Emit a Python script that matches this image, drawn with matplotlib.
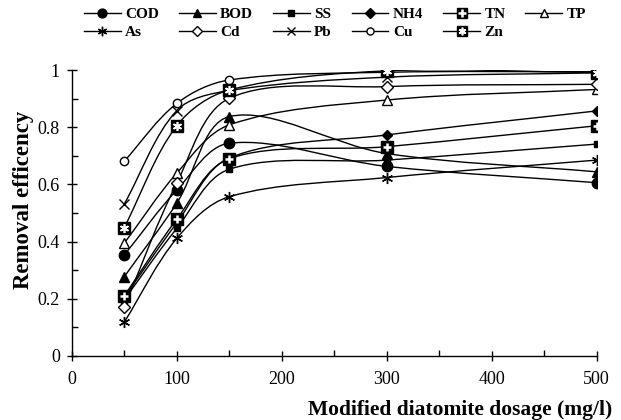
import numpy as np
import matplotlib
matplotlib.use('Agg')
import matplotlib.pyplot as plt
from matplotlib.path import Path
from matplotlib.patches import PathPatch
from matplotlib.lines import Line2D
from matplotlib.legend_handler import HandlerTuple
from matplotlib.ticker import MultipleLocator, FuncFormatter

plt.rcParams['font.family'] = ['Liberation Serif', 'DejaVu Serif']

# dosage of modified diatomite (mg/l)
dosage = [50, 100, 150, 300, 500]

# removal efficiency
cod = [0.353, 0.580, 0.744, 0.663, 0.606]
bod = [0.277, 0.534, 0.837, 0.708, 0.644]
ss = [0.197, 0.446, 0.653, 0.685, 0.741]
nh4 = [0.205, 0.465, 0.692, 0.773, 0.857]
tn = [0.210, 0.478, 0.690, 0.732, 0.805]
tp = [0.394, 0.639, 0.808, 0.895, 0.932]
as_ = [0.118, 0.411, 0.557, 0.624, 0.685]
cd = [0.172, 0.604, 0.901, 0.942, 0.950]
pb = [0.531, 0.858, 0.928, 0.975, 0.990]
cu = [0.681, 0.883, 0.965, 0.992, 0.994]
zn = [0.449, 0.805, 0.930, 0.997, 0.991]

names = ['COD', 'BOD', 'SS', 'NH4', 'TN', 'TP', 'As', 'Cd', 'Pb', 'Cu', 'Zn']
series = [cod, bod, ss, nh4, tn, tp, as_, cd, pb, cu, zn]

asterisk = (6, 2, 0)
styles = {
    'COD': dict(marker='o', ms=7.5, mfc='k'),
    'BOD': dict(marker='^', ms=7, mfc='k'),
    'SS': dict(marker='s', ms=5, mfc='k'),
    'NH4': dict(marker='D', ms=5.5, mfc='k'),
    'TN': dict(marker='s', ms=8, mfc='k'),
    'TP': dict(marker='^', ms=7, mfc='w'),
    'As': dict(marker=asterisk, ms=8, mfc='k'),
    'Cd': dict(marker='D', ms=6.5, mfc='w'),
    'Pb': dict(marker='x', ms=7, mfc='k'),
    'Cu': dict(marker='o', ms=6, mfc='w'),
    'Zn': dict(marker='s', ms=8, mfc='k'),
}
# white symbol drawn on top of the black square
overlays = {'TN': dict(marker='+', ms=6, mew=1.8),
            'Zn': dict(marker=asterisk, ms=6.5, mew=1.2)}


def smooth_path(xs, ys, sx, sy):
    # excel style smoothed line: bezier control points weighted by
    # the on-screen segment lengths (sx, sy = pixels per data unit)
    pts = np.column_stack([xs, ys]).astype(float)
    scr = pts * [sx, sy]
    n = len(pts)
    verts = [pts[0]]
    codes = [Path.MOVETO]
    for i in range(n - 1):
        i0 = max(i - 1, 0)
        i3 = min(i + 2, n - 1)
        d01 = np.hypot(*(scr[i] - scr[i0]))
        d12 = np.hypot(*(scr[i + 1] - scr[i]))
        d23 = np.hypot(*(scr[i3] - scr[i + 1]))
        f1 = d12 / (d01 + d12) / 3
        f2 = d12 / (d12 + d23) / 3
        c1 = pts[i] + (pts[i + 1] - pts[i0]) * f1
        c2 = pts[i + 1] - (pts[i3] - pts[i]) * f2
        verts += [c1, c2, pts[i + 1]]
        codes += [Path.CURVE4] * 3
    return Path(verts, codes)


fig = plt.figure(figsize=(6.21, 4.2), dpi=100)
ax = fig.add_axes([0.1155, 0.1524, 0.8454, 0.6809])
ax.set_xlim(0, 500)
ax.set_ylim(0, 1)
bb = ax.get_window_extent()
sx, sy = bb.width / 500, bb.height / 1.0

handles = {}
for i, (name, vals) in enumerate(zip(names, series)):
    ax.add_patch(PathPatch(smooth_path(dosage, vals, sx, sy), fill=False,
                           ec='k', lw=1.0, zorder=2))
    st = styles[name]
    ax.plot(dosage, vals, ls='none', marker=st['marker'], ms=st['ms'],
            mfc=st['mfc'], mec='k', mew=1.0, zorder=3 + i * 0.1)
    hl = Line2D([], [], color='k', lw=1.0, marker=st['marker'], ms=st['ms'] * 0.85,
                mfc=st['mfc'], mec='k', mew=1.0)
    if name in overlays:
        ov = overlays[name]
        ax.plot(dosage, vals, ls='none', marker=ov['marker'], ms=ov['ms'],
                mec='w', mew=ov['mew'], zorder=3.05 + i * 0.1)
        ho = Line2D([], [], ls='none', marker=ov['marker'], ms=ov['ms'] * 0.85,
                    mec='w', mew=ov['mew'])
        handles[name] = (hl, ho)
    else:
        handles[name] = hl

ax.xaxis.set_major_locator(MultipleLocator(100))
ax.xaxis.set_minor_locator(MultipleLocator(50))
ax.yaxis.set_major_locator(MultipleLocator(0.2))
ax.yaxis.set_minor_locator(MultipleLocator(0.1))
ax.yaxis.set_major_formatter(FuncFormatter(lambda v, p: f'{v:g}'))
ax.tick_params(which='major', direction='inout', length=7, width=1,
               labelsize=13)
ax.tick_params(axis='x', which='major', pad=7)
ax.tick_params(axis='y', which='major', pad=5)
ax.tick_params(which='minor', direction='in', length=4, width=1)
ax.spines['top'].set_visible(False)
ax.spines['right'].set_visible(False)
for s in ['left', 'bottom']:
    ax.spines[s].set_linewidth(1.0)

ax.set_ylabel('Removal efficency', fontsize=16.5, fontweight='bold')
ax.yaxis.set_label_coords(-0.072, 0.545)
ax.set_xlabel('Modified diatomite dosage (mg/l)', fontsize=15.5,
              fontweight='bold', ha='right')
ax.xaxis.set_label_coords(1.03, -0.155)

# legend rows: COD..TP on top, As..Zn below (column-major fill)
order = ['COD', 'As', 'BOD', 'Cd', 'SS', 'Pb', 'NH4', 'Cu', 'TN', 'Zn', 'TP']
fig.legend([handles[k] for k in order], order, ncol=6,
           loc='upper left', bbox_to_anchor=(0.113, 1.015), frameon=False,
           prop=dict(size=11, weight='bold'), handlelength=2.4,
           handletextpad=0.3, columnspacing=1.3, labelspacing=0.3,
           handler_map={tuple: HandlerTuple(ndivide=1, pad=0)})

fig.savefig('out.png', dpi=100)
